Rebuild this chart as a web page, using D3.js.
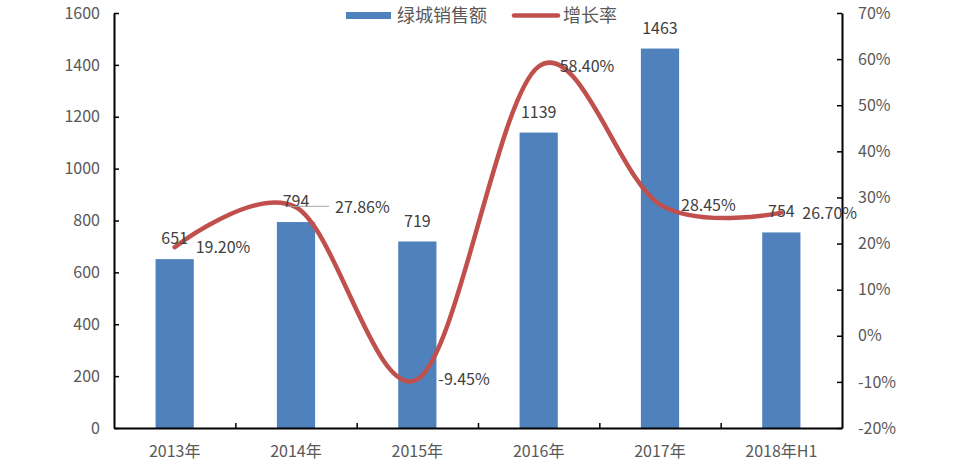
<!DOCTYPE html>
<html lang="zh">
<head>
<meta charset="UTF-8">
<title>绿城销售额</title>
<script src="https://d3js.org/d3.v7.min.js"></script>
<style>
  body { margin: 0; background: #fff; }
  svg text { font-family: "Noto Sans CJK SC", "Noto Sans", sans-serif; }
</style>
</head>
<body>
<div id="chart"></div>
<script>
// data
const categories = ["2013年", "2014年", "2015年", "2016年", "2017年", "2018年H1"];
const sales = [651, 794, 719, 1139, 1463, 754];
const growth = [19.20, 27.86, -9.45, 58.40, 28.45, 26.70];
const leftTicks = [0, 200, 400, 600, 800, 1000, 1200, 1400, 1600];
const rightTicks = [-20, -10, 0, 10, 20, 30, 40, 50, 60, 70];
// extra horizontal shift for crowded growth labels (drawn with leader line)
const growthLabelShift = [0, 18, 0, 0, 0, 0];

const W = 957, H = 464;
const margin = {left: 114, right: 115, top: 13, bottom: 36};
const BLUE = "#4F81BD", RED = "#C0504D", GREY = "#595959";

const svg = d3.select("#chart").append("svg")
    .attr("width", W).attr("height", H);

const x = d3.scaleBand().domain(categories)
    .range([margin.left, W - margin.right]).padding(0);
const xIdx = d3.scaleLinear().domain([0, categories.length])
    .range([margin.left, W - margin.right]);
const yL = d3.scaleLinear().domain([0, 1600]).range([H - margin.bottom, margin.top]);
const yR = d3.scaleLinear().domain([-20, 70]).range([H - margin.bottom, margin.top]);

const barW = x.bandwidth() * 0.315;
const cx = d => x(d) + x.bandwidth() / 2;

// bars
svg.append("g").selectAll("rect")
    .data(sales)
    .join("rect")
    .attr("x", (d, i) => cx(categories[i]) - barW / 2)
    .attr("y", d => yL(d))
    .attr("width", barW)
    .attr("height", d => yL(0) - yL(d))
    .attr("fill", BLUE);

// axes
function styleAxis(g) {
    g.selectAll("path.domain").attr("stroke", "#000").attr("stroke-width", 2);
    g.selectAll(".tick line").attr("stroke", "#000").attr("stroke-width", 1.5);
    g.selectAll(".tick text").attr("fill", GREY).style("font-size", "16px");
}

svg.append("g")
    .attr("transform", `translate(${margin.left},0)`)
    .call(d3.axisLeft(yL).tickValues(leftTicks).tickSizeInner(-5).tickSizeOuter(0)
        .tickPadding(14).tickFormat(d3.format("d")))
    .call(styleAxis);

svg.append("g")
    .attr("transform", `translate(${W - margin.right},0)`)
    .call(d3.axisRight(yR).tickValues(rightTicks).tickSizeInner(-5).tickSizeOuter(0)
        .tickPadding(16).tickFormat(d => d + "%"))
    .call(styleAxis);

// bottom axis: ticks between categories
svg.append("g")
    .attr("transform", `translate(0,${H - margin.bottom})`)
    .call(d3.axisBottom(xIdx).tickValues(d3.range(1, categories.length))
        .tickSizeInner(-5).tickSizeOuter(0).tickFormat(""))
    .call(styleAxis);

svg.append("g")
    .attr("transform", `translate(0,${H - margin.bottom})`)
    .call(d3.axisBottom(x).tickSize(0).tickPadding(18))
    .call(g => g.select(".domain").remove())
    .call(styleAxis);

// growth line (smoothed)
const pts = growth.map((g, i) => [cx(categories[i]), yR(g)]);
svg.append("path")
    .datum(pts)
    .attr("fill", "none")
    .attr("stroke", RED)
    .attr("stroke-width", 4.5)
    .attr("stroke-linecap", "round")
    .attr("d", d3.line().curve(d3.curveCatmullRom.alpha(0)));

// bar value labels
svg.append("g").selectAll("text")
    .data(sales)
    .join("text")
    .attr("x", (d, i) => cx(categories[i]))
    .attr("y", d => yL(d) - 15)
    .attr("text-anchor", "middle")
    .attr("fill", "#404040")
    .style("font-size", "16px")
    .text(d => d);

// growth labels
const gl = svg.append("g");
growth.forEach((g, i) => {
    const [px, py] = pts[i];
    const lx = px + 21 + growthLabelShift[i];
    if (growthLabelShift[i] > 0) {
        gl.append("line")
            .attr("x1", px - 9).attr("x2", lx - 6)
            .attr("y1", py - 1).attr("y2", py - 1)
            .attr("stroke", "#A6A6A6").attr("stroke-width", 1);
    }
    gl.append("text")
        .attr("x", lx)
        .attr("y", py + 6)
        .attr("fill", "#404040")
        .style("font-size", "16px")
        .text(g.toFixed(2) + "%");
});

// legend
const lg = svg.append("g");
lg.append("rect").attr("x", 346).attr("y", 12).attr("width", 45).attr("height", 7).attr("fill", BLUE);
lg.append("text").attr("x", 397).attr("y", 22).attr("fill", GREY)
    .style("font-size", "18px").text("绿城销售额");
lg.append("line").attr("x1", 514).attr("x2", 558).attr("y1", 15.5).attr("y2", 15.5)
    .attr("stroke", RED).attr("stroke-width", 4.5).attr("stroke-linecap", "round");
lg.append("text").attr("x", 563).attr("y", 22).attr("fill", GREY)
    .style("font-size", "18px").text("增长率");
</script>
</body>
</html>
